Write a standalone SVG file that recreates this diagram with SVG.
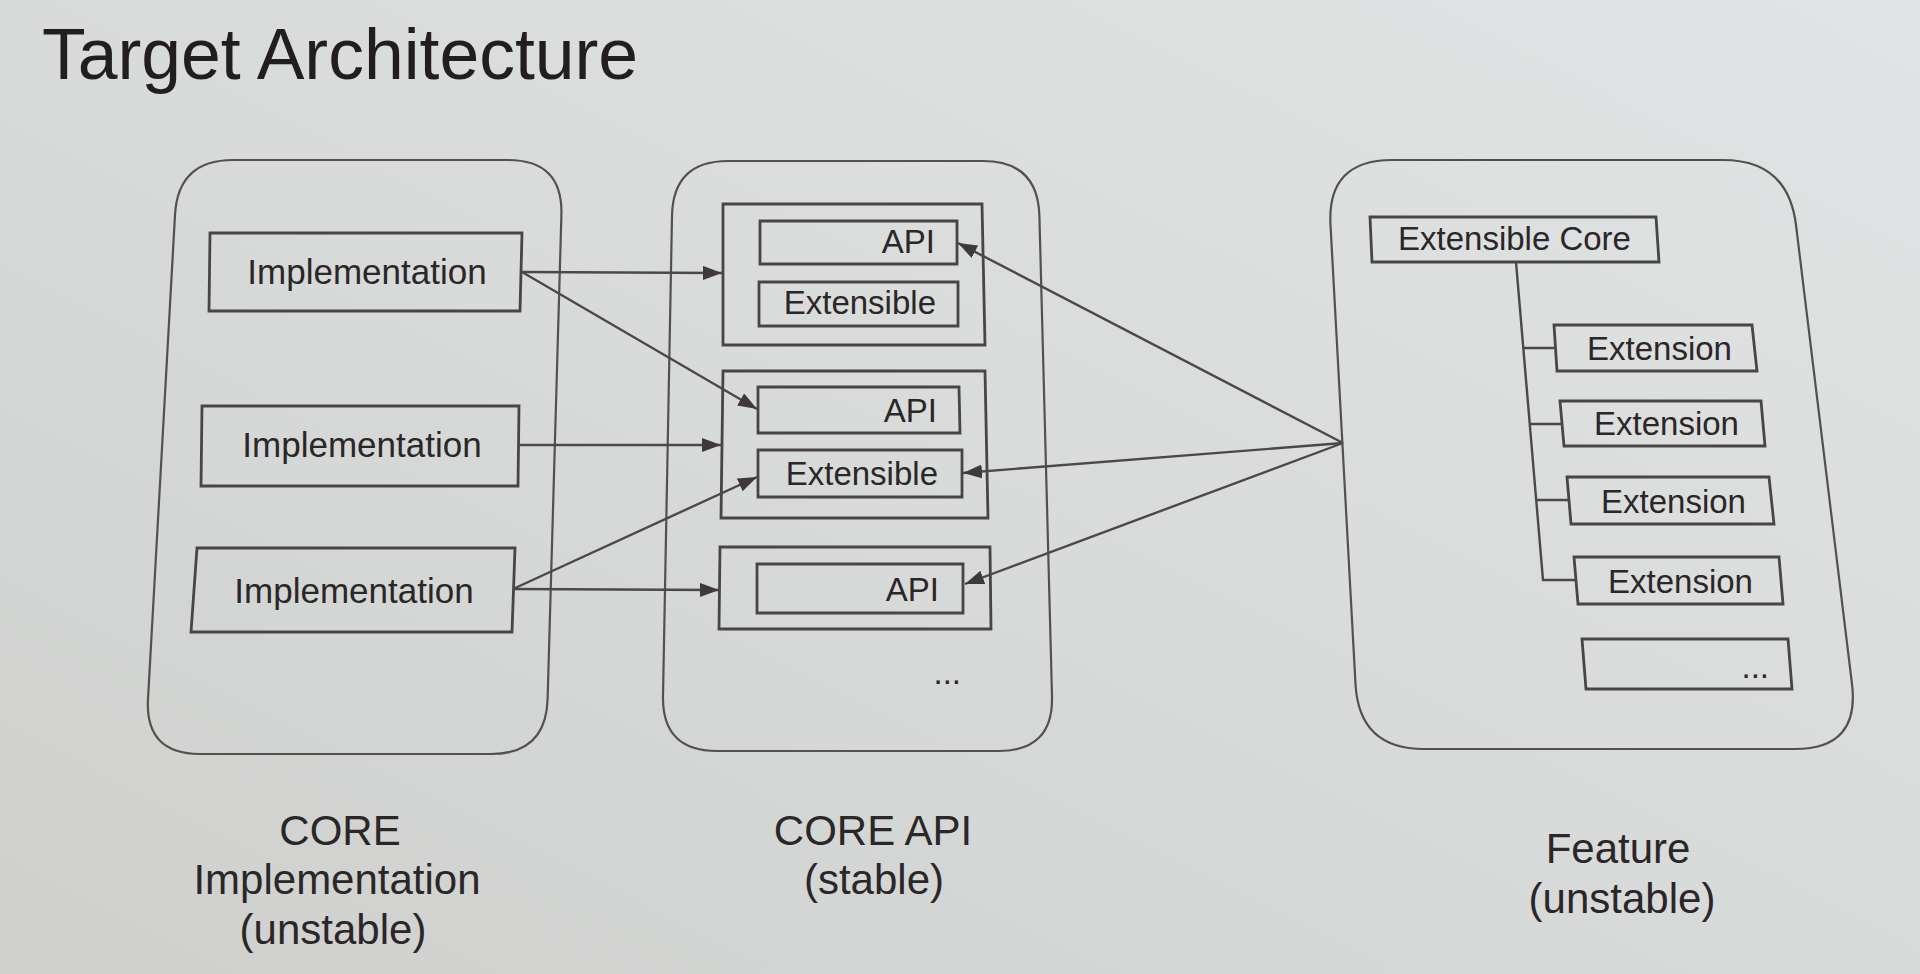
<svg xmlns="http://www.w3.org/2000/svg" width="1920" height="974" viewBox="0 0 1920 974">
<defs>
<linearGradient id="bg" x1="0" y1="1" x2="1" y2="0">
<stop offset="0" stop-color="#cfd0ce"/>
<stop offset="0.55" stop-color="#d9dcdb"/>
<stop offset="1" stop-color="#e1e4e4"/>
</linearGradient>
<marker id="ah" markerUnits="userSpaceOnUse" markerWidth="20" markerHeight="14" refX="19" refY="7" orient="auto">
<path d="M0,0 L19,7 L0,14 Z" fill="#3f3a3a"/>
</marker>
<style>
.c{fill:none;stroke:#555050;stroke-width:2.2}
.b{fill:none;stroke:#4a4545;stroke-width:2.8}
.ln{fill:none;stroke:#4d4848;stroke-width:2.4}
.t{font-family:"Liberation Sans",Arial,sans-serif;fill:#2b2627;font-size:33px}
.ti{font-family:"Liberation Sans",Arial,sans-serif;fill:#2b2627;font-size:35px}
.lb{font-family:"Liberation Sans",Arial,sans-serif;fill:#2b2627;font-size:42px;text-anchor:middle}
.e{text-anchor:end}
.m{text-anchor:middle}
</style>
</defs>
<rect width="1920" height="974" fill="url(#bg)"/>
<text id="title" x="42" y="79" font-family="Liberation Sans, Arial, sans-serif" font-size="71.5" fill="#221e1f">Target Architecture</text>

<g id="core-impl">
<path class="c" d="M233,160 L508,160 Q563,160 561.4,215 L547.6,699 Q546,754 491,754 L200,754 Q145,754 148,699 L175,215 Q178,160 233,160 Z"/>
<g id="impl1"><path class="b" d="M210,233 L522,233 L520,311 L209,311 Z"/><text class="ti m" x="367" y="284">Implementation</text></g>
<g id="impl2"><path class="b" d="M202,406 L519,406 L518,486 L201,486 Z"/><text class="ti m" x="362" y="457">Implementation</text></g>
<g id="impl3"><path class="b" d="M197,548 L515,548 L512,632 L191,632 Z"/><text class="ti m" x="354" y="603">Implementation</text></g>
</g>

<g id="core-api">
<path class="c" d="M728,161 L983,161 Q1038,161 1039.4,216 L1052,696 Q1053.5,751 998.5,751 L717,751 Q662,751 663,696 L672,216 Q673,161 728,161 Z"/>
<g id="grp1">
<path class="b" d="M723,204 L982,204 L985,345 L723,345 Z"/>
<g id="api1"><path class="b" d="M760,221 L957,221 L957,264 L760,264 Z"/><text class="t e" x="935" y="253">API</text></g>
<g id="ext1"><path class="b" d="M759,282 L958,282 L958,326 L759,326 Z"/><text class="t e" x="936" y="314">Extensible</text></g>
</g>
<g id="grp2">
<path class="b" d="M723,371 L985,371 L988,518 L721,518 Z"/>
<g id="api2"><path class="b" d="M758,387 L959,387 L960,433 L758,433 Z"/><text class="t e" x="937" y="422">API</text></g>
<g id="ext2"><path class="b" d="M758,450 L962,450 L962,497 L758,497 Z"/><text class="t e" x="938" y="485">Extensible</text></g>
</g>
<g id="grp3">
<path class="b" d="M720,547 L990,547 L991,629 L719,629 Z"/>
<g id="api3"><path class="b" d="M757,564 L963,564 L963,613 L757,613 Z"/><text class="t e" x="939" y="601">API</text></g>
</g>
<text class="t e" x="961" y="684" font-size="30">...</text>
</g>

<g id="feature">
<path class="c" d="M1392,160 L1723,160 Q1788,160 1796,225 L1852,684 Q1860,749 1795,749 L1424,749 Q1359,749 1355.5,684 L1330.5,225 Q1327,160 1392,160 Z"/>
<g id="ext-core"><path class="b" d="M1370,217 L1656,217 L1659,262 L1372,262 Z"/><text class="t" x="1398" y="250">Extensible Core</text></g>
<g id="tree">
<path class="ln" d="M1516,262 L1543,580 L1576,580 M1523.3,348 L1556,348 M1529.8,424 L1563,424 M1536.2,500 L1569,500"/>
</g>
<g id="extn1"><path class="b" d="M1554,325 L1752,325 L1757,371 L1557,371 Z"/><text class="t" x="1587" y="360">Extension</text></g>
<g id="extn2"><path class="b" d="M1560,401 L1761,401 L1765,446 L1564,446 Z"/><text class="t" x="1594" y="435">Extension</text></g>
<g id="extn3"><path class="b" d="M1567,477 L1769,477 L1774,524 L1571,524 Z"/><text class="t" x="1601" y="513">Extension</text></g>
<g id="extn4"><path class="b" d="M1574,557 L1779,557 L1783,604 L1578,604 Z"/><text class="t" x="1608" y="593">Extension</text></g>
<g id="extn5"><path class="b" d="M1582,639 L1788,639 L1792,689 L1586,689 Z"/><text class="t e" x="1769" y="678" font-size="30">...</text></g>
</g>

<g id="connectors">
<path class="ln" marker-end="url(#ah)" d="M522,272 L722,273"/>
<path class="ln" marker-end="url(#ah)" d="M522,272 L757,409"/>
<path class="ln" marker-end="url(#ah)" d="M519,445 L721,445"/>
<path class="ln" marker-end="url(#ah)" d="M513,589 L757,477"/>
<path class="ln" marker-end="url(#ah)" d="M513,589 L719,590"/>
<path class="ln" marker-end="url(#ah)" d="M1343,443 L958,243"/>
<path class="ln" marker-end="url(#ah)" d="M1343,443 L963,473"/>
<path class="ln" marker-end="url(#ah)" d="M1343,443 L965,584"/>
</g>

<g id="labels">
<text class="lb" x="340" y="845">CORE</text>
<text class="lb" x="337" y="894">Implementation</text>
<text class="lb" x="333" y="944">(unstable)</text>
<text class="lb" x="873" y="845">CORE API</text>
<text class="lb" x="874" y="894">(stable)</text>
<text class="lb" x="1618" y="863">Feature</text>
<text class="lb" x="1622" y="913">(unstable)</text>
</g>
</svg>
